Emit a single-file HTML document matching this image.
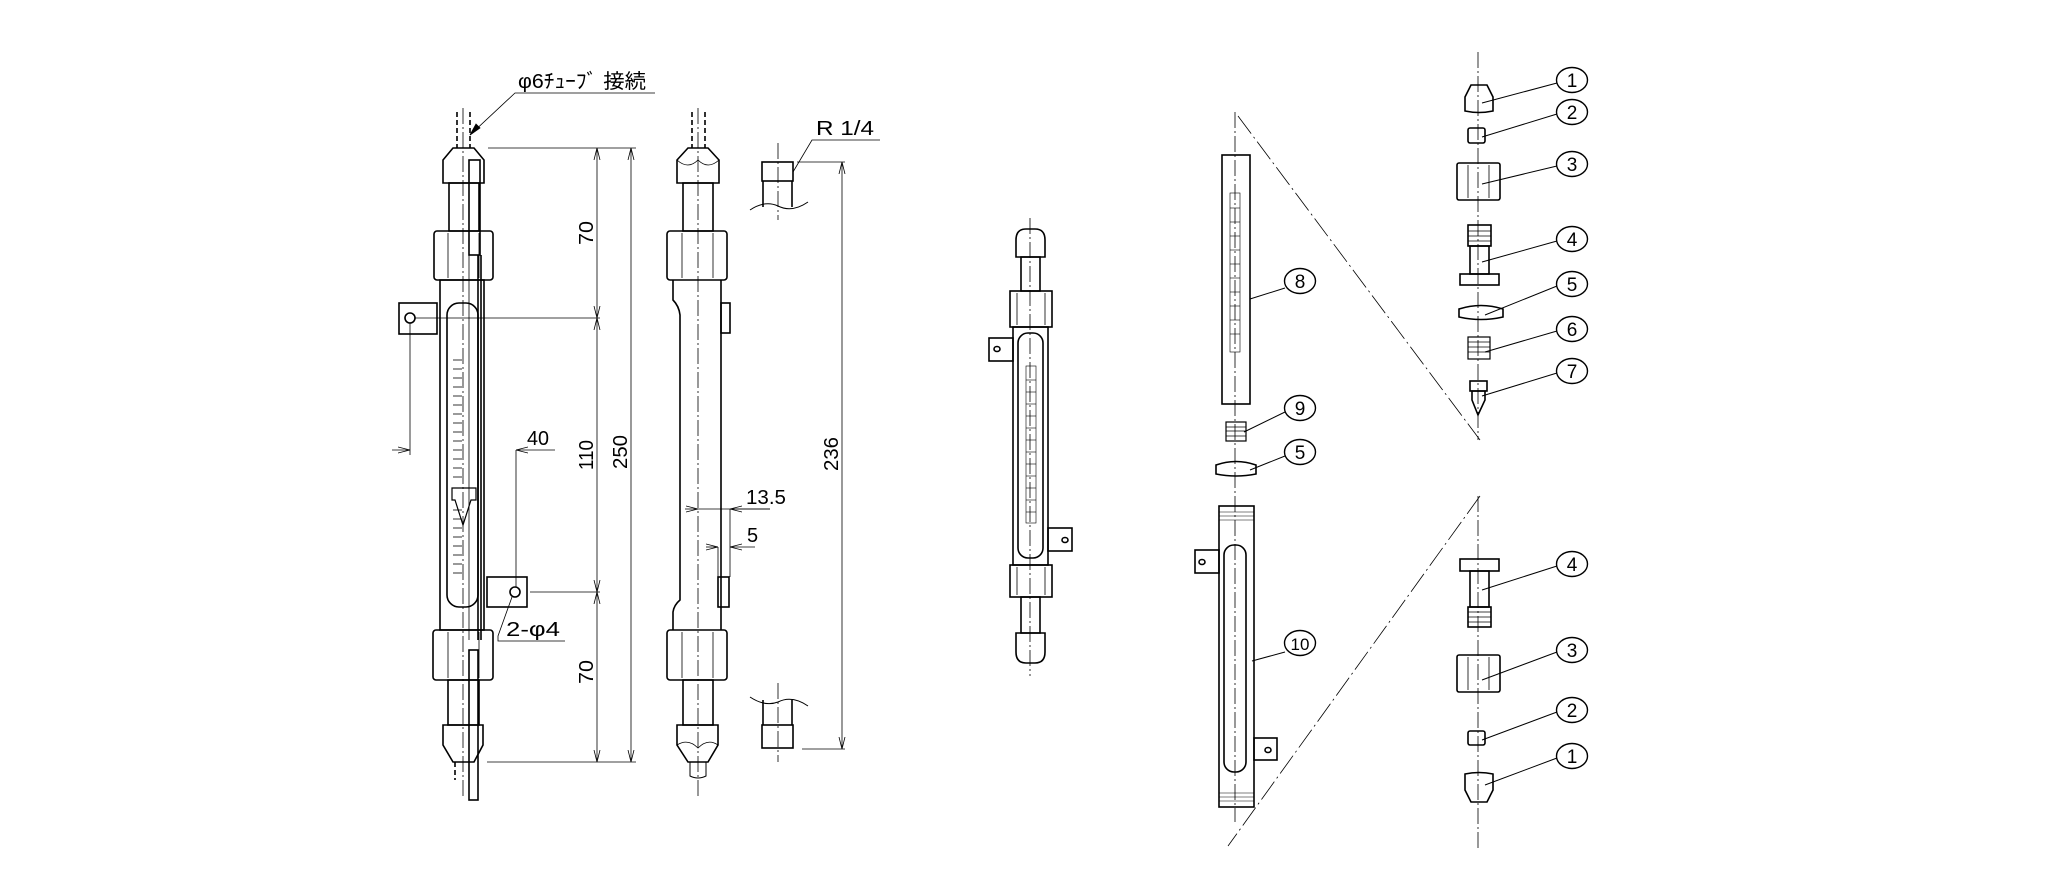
<!DOCTYPE html>
<html><head><meta charset="utf-8"><style>
html,body{margin:0;padding:0;background:#fff;}
svg{display:block;}
text{font-family:"Liberation Sans","Noto Sans CJK JP",sans-serif;fill:#000;}
</style></head><body>
<svg width="2048" height="877" viewBox="0 0 2048 877" xmlns="http://www.w3.org/2000/svg">
<defs>
<marker id="ar" markerWidth="12" markerHeight="8" refX="12" refY="4" orient="auto" markerUnits="userSpaceOnUse">
<path d="M0,1 L12,4 L0,7" fill="none" stroke="#000" stroke-width="0.8"/>
</marker>
</defs>
<g fill="none" stroke="#000" stroke-width="1.6">
<!-- ========== LEFT DRAWING axis 463 ========== -->
<line x1="463" y1="108" x2="463" y2="798" stroke-width="0.8" stroke-dasharray="16 3 2 3"/>
<line x1="457" y1="112" x2="457" y2="148" stroke-dasharray="5 3"/>
<line x1="470" y1="112" x2="470" y2="148" stroke-dasharray="5 3"/>
<path d="M443,160 L453,148 L474,148 L484,160 L484,183 L443,183 Z"/>
<rect x="449" y="183" width="30" height="48"/>
<rect x="434" y="231" width="59" height="49" rx="3"/>
<line x1="448" y1="233" x2="448" y2="278" stroke-width="0.8"/>
<line x1="479" y1="233" x2="479" y2="278" stroke-width="0.8"/>
<rect x="440" y="280" width="44" height="350"/>
<rect x="447" y="303" width="31" height="304" rx="12"/>
<rect x="469" y="160" width="11" height="95"/>
<line x1="478" y1="255" x2="478" y2="640"/>
<line x1="481" y1="255" x2="481" y2="640"/>
<line x1="469" y1="255" x2="469" y2="640" stroke-width="0.8"/>
<rect x="399" y="303" width="38" height="31"/>
<circle cx="410" cy="318" r="5"/>
<rect x="487" y="577" width="40" height="30"/>
<circle cx="515" cy="592" r="5"/>
<rect x="433" y="630" width="60" height="50" rx="3"/>
<line x1="448" y1="632" x2="448" y2="678" stroke-width="0.8"/>
<line x1="479" y1="632" x2="479" y2="678" stroke-width="0.8"/>
<rect x="448" y="680" width="31" height="45"/>
<rect x="469" y="650" width="9" height="150"/>
<path d="M443,725 L483,725 L483,745 L474,762 L453,762 L443,745 Z"/>
<line x1="455" y1="762" x2="455" y2="780" stroke-dasharray="5 3"/>
<path d="M452,488 L476,488 L476,500 L471,500 L463,525 L455,500 L452,500 Z" stroke-width="1.2"/>
<g stroke-width="0.8">
<line x1="453" y1="360" x2="462" y2="360"/><line x1="453" y1="369" x2="462" y2="369"/><line x1="453" y1="378" x2="462" y2="378"/><line x1="453" y1="387" x2="462" y2="387"/><line x1="453" y1="396" x2="462" y2="396"/><line x1="453" y1="405" x2="462" y2="405"/><line x1="453" y1="414" x2="462" y2="414"/><line x1="453" y1="423" x2="462" y2="423"/><line x1="453" y1="432" x2="462" y2="432"/><line x1="453" y1="441" x2="462" y2="441"/><line x1="453" y1="450" x2="462" y2="450"/><line x1="453" y1="459" x2="462" y2="459"/><line x1="453" y1="468" x2="462" y2="468"/><line x1="453" y1="477" x2="462" y2="477"/><line x1="453" y1="510" x2="462" y2="510"/><line x1="453" y1="519" x2="462" y2="519"/><line x1="453" y1="528" x2="462" y2="528"/><line x1="453" y1="537" x2="462" y2="537"/><line x1="453" y1="546" x2="462" y2="546"/><line x1="453" y1="555" x2="462" y2="555"/><line x1="453" y1="564" x2="462" y2="564"/><line x1="453" y1="573" x2="462" y2="573"/>
</g>
</g>
<!-- dims left -->
<g fill="none" stroke="#000" stroke-width="0.8">
<line x1="488" y1="148" x2="636" y2="148"/>
<line x1="415" y1="318" x2="600" y2="318"/>
<line x1="530" y1="592" x2="600" y2="592"/>
<line x1="487" y1="762" x2="636" y2="762"/>
<line x1="597" y1="230" x2="597" y2="148" marker-end="url(#ar)"/>
<line x1="597" y1="230" x2="597" y2="318" marker-end="url(#ar)"/>
<line x1="597" y1="450" x2="597" y2="318" marker-end="url(#ar)"/>
<line x1="597" y1="450" x2="597" y2="592" marker-end="url(#ar)"/>
<line x1="597" y1="680" x2="597" y2="592" marker-end="url(#ar)"/>
<line x1="597" y1="680" x2="597" y2="762" marker-end="url(#ar)"/>
<line x1="631" y1="450" x2="631" y2="148" marker-end="url(#ar)"/>
<line x1="631" y1="450" x2="631" y2="762" marker-end="url(#ar)"/>
<line x1="410" y1="323" x2="410" y2="455"/>
<line x1="516" y1="450" x2="516" y2="587"/>
<line x1="392" y1="450" x2="410" y2="450" marker-end="url(#ar)"/>
<line x1="555" y1="450" x2="516" y2="450" marker-end="url(#ar)"/>
<polyline points="565,641 498,641 498,636 512,597"/>
<polyline points="655,93 515,93 470,135"/>
<polygon points="470,135 476,124 480,128" fill="#000"/>
</g>
<!-- ========== SECOND DRAWING axis 698 ========== -->
<g fill="none" stroke="#000" stroke-width="1.6">
<line x1="698" y1="108" x2="698" y2="798" stroke-width="0.8" stroke-dasharray="16 3 2 3"/>
<line x1="692" y1="112" x2="692" y2="148" stroke-dasharray="5 3"/>
<line x1="705" y1="112" x2="705" y2="148" stroke-dasharray="5 3"/>
<path d="M677,160 L688,148 L708,148 L719,160 L719,183 L677,183 Z"/>
<path d="M677,160 Q688,170 698,160 Q708,170 719,160" stroke-width="0.8"/>
<rect x="683" y="183" width="30" height="48"/>
<rect x="667" y="231" width="60" height="49" rx="3"/>
<line x1="682" y1="233" x2="682" y2="278" stroke-width="0.8"/>
<line x1="713" y1="233" x2="713" y2="278" stroke-width="0.8"/>
<path d="M673,280 L673,300 Q679,306 680,315 L680,600 Q674,605 673,612 L673,630 M721,280 L721,630"/>
<rect x="721" y="303" width="9" height="30"/>
<rect x="718" y="577" width="11" height="30"/>
<rect x="667" y="630" width="60" height="50" rx="3"/>
<line x1="682" y1="632" x2="682" y2="678" stroke-width="0.8"/>
<line x1="713" y1="632" x2="713" y2="678" stroke-width="0.8"/>
<rect x="683" y="680" width="30" height="45"/>
<path d="M677,725 L718,725 L718,745 L708,762 L688,762 L677,745 Z"/>
<path d="M677,745 Q688,738 698,748 Q708,738 718,745" stroke-width="0.8"/>
<path d="M690,762 L690,776 Q698,780 706,776 L706,762" stroke-width="1"/>
</g>
<g fill="none" stroke="#000" stroke-width="0.8">
<line x1="685" y1="509" x2="698" y2="509" marker-end="url(#ar)"/>
<line x1="698" y1="509" x2="770" y2="509"/>
<line x1="770" y1="509" x2="730" y2="509" marker-end="url(#ar)"/>
<line x1="730" y1="509" x2="730" y2="577"/>
<line x1="706" y1="547" x2="718" y2="547" marker-end="url(#ar)"/>
<line x1="755" y1="547" x2="730" y2="547" marker-end="url(#ar)"/>
<line x1="718" y1="547" x2="718" y2="577"/>
</g>
<!-- R1/4 -->
<g fill="none" stroke="#000" stroke-width="1.6">
<line x1="778" y1="143" x2="778" y2="220" stroke-width="0.8" stroke-dasharray="16 3 2 3"/>
<line x1="778" y1="683" x2="778" y2="762" stroke-width="0.8" stroke-dasharray="16 3 2 3"/>
<rect x="762" y="162" width="31" height="19"/>
<line x1="763" y1="181" x2="763" y2="207"/>
<line x1="792" y1="181" x2="792" y2="207"/>
<path d="M750,210 Q765,200 778,206 Q792,213 808,202" stroke-width="1"/>
<path d="M750,697 Q765,707 778,702 Q792,695 808,706" stroke-width="1"/>
<line x1="763" y1="700" x2="763" y2="725"/>
<line x1="792" y1="700" x2="792" y2="725"/>
<rect x="762" y="725" width="31" height="23"/>
</g>
<g fill="none" stroke="#000" stroke-width="0.8">
<polyline points="880,140 812,140 793,172"/>
<line x1="797" y1="162" x2="845" y2="162"/>
<line x1="802" y1="749" x2="845" y2="749"/>
<line x1="842" y1="450" x2="842" y2="162" marker-end="url(#ar)"/>
<line x1="842" y1="450" x2="842" y2="749" marker-end="url(#ar)"/>
</g>
<!-- ========== ASSEMBLED axis 1030 ========== -->
<g fill="none" stroke="#000" stroke-width="1.6">
<line x1="1030" y1="218" x2="1030" y2="676" stroke-width="0.8" stroke-dasharray="16 3 2 3"/>
<path d="M1016,240 Q1016,229 1026,229 L1035,229 Q1045,229 1045,240 L1045,257 L1016,257 Z"/>
<rect x="1021" y="257" width="19" height="34"/>
<rect x="1010" y="291" width="42" height="36"/>
<line x1="1017" y1="293" x2="1017" y2="325" stroke-width="0.8"/>
<line x1="1045" y1="293" x2="1045" y2="325" stroke-width="0.8"/>
<rect x="1013" y="327" width="35" height="238"/>
<rect x="1018" y="333" width="25" height="225" rx="10"/>
<rect x="1026" y="366" width="10" height="157" stroke-width="0.6"/>
<rect x="989" y="338" width="24" height="23"/>
<ellipse cx="997" cy="349" rx="3" ry="2.5"/>
<rect x="1048" y="528" width="24" height="23"/>
<ellipse cx="1065" cy="540" rx="3" ry="2.5"/>
<rect x="1010" y="565" width="42" height="32"/>
<line x1="1017" y1="567" x2="1017" y2="595" stroke-width="0.8"/>
<line x1="1045" y1="567" x2="1045" y2="595" stroke-width="0.8"/>
<rect x="1021" y="597" width="19" height="36"/>
<path d="M1016,633 L1045,633 L1045,652 Q1045,663 1035,663 L1026,663 Q1016,663 1016,652 Z"/>
</g>
<g stroke="#000" stroke-width="0.6">
<line x1="1026" y1="380" x2="1036" y2="380"/><line x1="1026" y1="392" x2="1036" y2="392"/><line x1="1026" y1="404" x2="1036" y2="404"/><line x1="1026" y1="416" x2="1036" y2="416"/><line x1="1026" y1="428" x2="1036" y2="428"/><line x1="1026" y1="440" x2="1036" y2="440"/><line x1="1026" y1="452" x2="1036" y2="452"/><line x1="1026" y1="464" x2="1036" y2="464"/><line x1="1026" y1="476" x2="1036" y2="476"/><line x1="1026" y1="488" x2="1036" y2="488"/><line x1="1026" y1="500" x2="1036" y2="500"/><line x1="1026" y1="512" x2="1036" y2="512"/>
</g>
<!-- ========== EXPLODED axis 1235 ========== -->
<g fill="none" stroke="#000" stroke-width="1.6">
<line x1="1235" y1="112" x2="1235" y2="822" stroke-width="0.8" stroke-dasharray="16 3 2 3"/>
<line x1="1238" y1="116" x2="1480" y2="440" stroke-width="0.8" stroke-dasharray="22 4 2 4"/>
<line x1="1480" y1="496" x2="1228" y2="846" stroke-width="0.8" stroke-dasharray="22 4 2 4"/>
<rect x="1222" y="155" width="28" height="249"/>
<rect x="1230" y="193" width="10" height="159" stroke-width="0.6"/>
<rect x="1226" y="422" width="20" height="19" stroke-width="1.2"/>
<line x1="1226" y1="427" x2="1246" y2="427" stroke-width="0.8"/><line x1="1226" y1="431" x2="1246" y2="431" stroke-width="0.8"/><line x1="1226" y1="436" x2="1246" y2="436" stroke-width="0.8"/>
<path d="M1216,465 Q1236,458 1256,465 L1256,474 Q1236,478 1216,474 Z"/>
<rect x="1219" y="506" width="35" height="301"/>
<rect x="1224" y="545" width="22" height="227" rx="10"/>
<rect x="1195" y="550" width="24" height="23"/>
<ellipse cx="1202" cy="562" rx="3" ry="2.5"/>
<rect x="1254" y="738" width="23" height="22"/>
<ellipse cx="1268" cy="750" rx="3" ry="2.5"/>
</g>
<g stroke="#000" stroke-width="0.6">
<line x1="1219" y1="512" x2="1254" y2="512"/><line x1="1219" y1="516" x2="1254" y2="516"/><line x1="1219" y1="520" x2="1254" y2="520"/>
<line x1="1219" y1="793" x2="1254" y2="793"/><line x1="1219" y1="797" x2="1254" y2="797"/><line x1="1219" y1="801" x2="1254" y2="801"/>
<line x1="1230" y1="208" x2="1240" y2="208"/><line x1="1230" y1="222" x2="1240" y2="222"/><line x1="1230" y1="236" x2="1240" y2="236"/><line x1="1230" y1="250" x2="1240" y2="250"/><line x1="1230" y1="264" x2="1240" y2="264"/><line x1="1230" y1="278" x2="1240" y2="278"/><line x1="1230" y1="292" x2="1240" y2="292"/><line x1="1230" y1="306" x2="1240" y2="306"/><line x1="1230" y1="320" x2="1240" y2="320"/><line x1="1230" y1="334" x2="1240" y2="334"/>
</g>
<g fill="none" stroke="#000" stroke-width="1">
<line x1="1250" y1="299" x2="1285" y2="288"/>
<line x1="1244" y1="432" x2="1285" y2="412"/>
<line x1="1250" y1="470" x2="1285" y2="456"/>
<line x1="1252" y1="661" x2="1285" y2="652"/>
<ellipse cx="1300" cy="281" rx="15.5" ry="12.5" stroke-width="1.4"/>
<ellipse cx="1300" cy="408" rx="15.5" ry="12.5" stroke-width="1.4"/>
<ellipse cx="1300" cy="452" rx="15.5" ry="12.5" stroke-width="1.4"/>
<ellipse cx="1300" cy="643" rx="15.5" ry="12.5" stroke-width="1.4"/>
</g>
<!-- ========== PARTS axis 1478 ========== -->
<g fill="none" stroke="#000" stroke-width="1.6">
<line x1="1478" y1="52" x2="1478" y2="440" stroke-width="0.8" stroke-dasharray="16 3 2 3"/>
<line x1="1478" y1="496" x2="1478" y2="850" stroke-width="0.8" stroke-dasharray="16 3 2 3"/>
<path d="M1465,97 L1471,85 L1487,85 L1493,97 L1493,111 Q1479,114 1465,111 Z"/>
<rect x="1468" y="128" width="17" height="15" rx="2"/>
<rect x="1457" y="163" width="43" height="37" rx="2"/>
<line x1="1468" y1="165" x2="1468" y2="198" stroke-width="0.8"/><line x1="1489" y1="165" x2="1489" y2="198" stroke-width="0.8"/>
<rect x="1468" y="225" width="23" height="21"/>
<line x1="1468" y1="231" x2="1491" y2="231" stroke-width="0.7"/><line x1="1468" y1="236" x2="1491" y2="236" stroke-width="0.7"/><line x1="1468" y1="241" x2="1491" y2="241" stroke-width="0.7"/>
<rect x="1470" y="246" width="19" height="28"/>
<rect x="1460" y="274" width="39" height="11"/>
<path d="M1459,309 Q1481,302 1503,309 L1503,317 Q1481,322 1459,317 Z"/>
<rect x="1468" y="337" width="22" height="22" stroke-width="1.2"/>
<line x1="1468" y1="342" x2="1490" y2="342" stroke-width="0.8"/><line x1="1468" y1="347" x2="1490" y2="347" stroke-width="0.8"/><line x1="1468" y1="352" x2="1490" y2="352" stroke-width="0.8"/>
<rect x="1470" y="381" width="17" height="10"/>
<path d="M1472,391 L1485,391 L1485,400 L1478,415 L1472,400 Z"/>
<rect x="1460" y="559" width="39" height="12"/>
<rect x="1470" y="571" width="19" height="36"/>
<rect x="1468" y="607" width="23" height="20"/>
<line x1="1468" y1="612" x2="1491" y2="612" stroke-width="0.7"/><line x1="1468" y1="617" x2="1491" y2="617" stroke-width="0.7"/><line x1="1468" y1="622" x2="1491" y2="622" stroke-width="0.7"/>
<rect x="1457" y="655" width="43" height="37" rx="2"/>
<line x1="1468" y1="657" x2="1468" y2="690" stroke-width="0.8"/><line x1="1489" y1="657" x2="1489" y2="690" stroke-width="0.8"/>
<rect x="1468" y="731" width="17" height="14" rx="2"/>
<path d="M1465,774 Q1479,771 1493,774 L1493,790 L1487,802 L1471,802 L1465,790 Z"/>
</g>
<g fill="none" stroke="#000" stroke-width="1">
<line x1="1482" y1="103" x2="1557" y2="83"/>
<line x1="1482" y1="137" x2="1557" y2="114"/>
<line x1="1482" y1="184" x2="1557" y2="166"/>
<line x1="1482" y1="262" x2="1557" y2="241"/>
<line x1="1485" y1="315" x2="1557" y2="286"/>
<line x1="1485" y1="352" x2="1557" y2="331"/>
<line x1="1482" y1="396" x2="1557" y2="373"/>
<line x1="1482" y1="590" x2="1557" y2="566"/>
<line x1="1482" y1="680" x2="1557" y2="652"/>
<line x1="1482" y1="740" x2="1557" y2="712"/>
<line x1="1485" y1="785" x2="1557" y2="758"/>
<g stroke-width="1.4">
<ellipse cx="1572" cy="80" rx="15.5" ry="12.5"/>
<ellipse cx="1572" cy="112" rx="15.5" ry="12.5"/>
<ellipse cx="1572" cy="164" rx="15.5" ry="12.5"/>
<ellipse cx="1572" cy="239" rx="15.5" ry="12.5"/>
<ellipse cx="1572" cy="284" rx="15.5" ry="12.5"/>
<ellipse cx="1572" cy="329" rx="15.5" ry="12.5"/>
<ellipse cx="1572" cy="371" rx="15.5" ry="12.5"/>
<ellipse cx="1572" cy="564" rx="15.5" ry="12.5"/>
<ellipse cx="1572" cy="650" rx="15.5" ry="12.5"/>
<ellipse cx="1572" cy="710" rx="15.5" ry="12.5"/>
<ellipse cx="1572" cy="756" rx="15.5" ry="12.5"/>
</g>
</g>
<!-- ========== TEXT ========== -->
<g font-size="19" text-anchor="middle">
<text x="1300" y="288">8</text>
<text x="1300" y="415">9</text>
<text x="1300" y="459">5</text>
<text x="1300" y="650" font-size="17">10</text>
<text x="1572" y="87">1</text>
<text x="1572" y="119">2</text>
<text x="1572" y="171">3</text>
<text x="1572" y="246">4</text>
<text x="1572" y="291">5</text>
<text x="1572" y="336">6</text>
<text x="1572" y="378">7</text>
<text x="1572" y="571">4</text>
<text x="1572" y="657">3</text>
<text x="1572" y="717">2</text>
<text x="1572" y="763">1</text>
</g>
<g font-size="20">
<text x="518" y="88" textLength="128" lengthAdjust="spacingAndGlyphs">φ6ﾁｭｰﾌﾞ 接続</text>
<text x="816" y="135" textLength="58" lengthAdjust="spacingAndGlyphs">R 1/4</text>
<text x="527" y="445" textLength="22" lengthAdjust="spacingAndGlyphs">40</text>
<text x="506" y="636" textLength="54" lengthAdjust="spacingAndGlyphs">2-φ4</text>
<text x="746" y="504" textLength="40" lengthAdjust="spacingAndGlyphs">13.5</text>
<text x="747" y="542">5</text>
<text transform="translate(593,233) rotate(-90)" text-anchor="middle" textLength="24" lengthAdjust="spacingAndGlyphs">70</text>
<text transform="translate(593,455) rotate(-90)" text-anchor="middle" textLength="30" lengthAdjust="spacingAndGlyphs">110</text>
<text transform="translate(627,452) rotate(-90)" text-anchor="middle" textLength="34" lengthAdjust="spacingAndGlyphs">250</text>
<text transform="translate(593,672) rotate(-90)" text-anchor="middle" textLength="24" lengthAdjust="spacingAndGlyphs">70</text>
<text transform="translate(838,454) rotate(-90)" text-anchor="middle" textLength="34" lengthAdjust="spacingAndGlyphs">236</text>
</g>
</svg>
</body></html>
